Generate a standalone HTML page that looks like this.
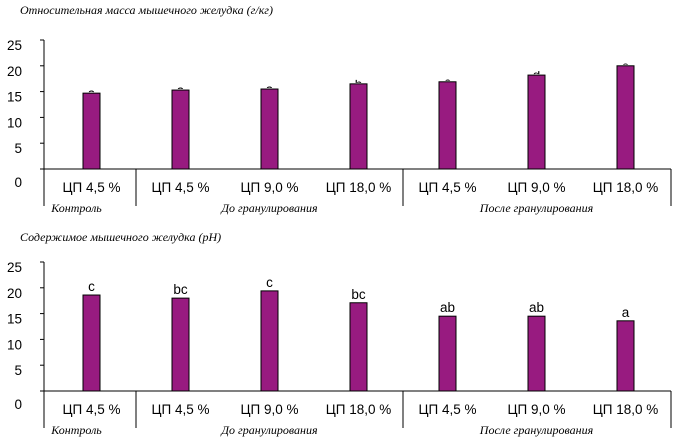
<!DOCTYPE html>
<html><head><meta charset="utf-8"><style>
html,body{margin:0;padding:0;background:#fff;width:677px;height:437px;overflow:hidden}
svg{display:block}
.t{font-family:"Liberation Serif",serif;font-style:italic;font-size:12px}
.n{font-family:"Liberation Sans",sans-serif;font-size:13.5px}
</style></head><body>
<svg id="c" width="677" height="437"></svg>
<script>
const categories = ["ЦП 4,5 %","ЦП 4,5 %","ЦП 9,0 %","ЦП 18,0 %","ЦП 4,5 %","ЦП 9,0 %","ЦП 18,0 %"];
const groups = ["Контроль","До гранулирования","После гранулирования"];
const groupSizes = [1,3,3];
const yTicks = [0,5,10,15,20,25];
const massValues = [14.7,15.3,15.5,16.5,16.9,18.2,20.0];
const massLetters = ["a","a","a","b","c","d","e"];
const phValues = [18.6,18.0,19.4,17.1,14.5,14.5,13.6];
const phLetters = ["c","bc","c","bc","ab","ab","a"];
const NS="http://www.w3.org/2000/svg";
const svg=document.getElementById('c');
function mk(tag,attrs,parent,txt){const e=document.createElementNS(NS,tag);for(const k in attrs)e.setAttribute(k,attrs[k]);if(txt!==undefined)e.textContent=txt;(parent||svg).appendChild(e);return e;}
function chart(id,title,titleX,titleY,base,values,letters,clipLetters){
  const g=mk('g',{});
  
  
  const x0=47,step=89,pxPer=5.16,ax=44,xEnd=671;
  const y=v=>base-v*pxPer;
  const xc=i=>x0+step*(i+0.5);
  const tt=mk('text',{x:titleX,y:titleY,class:'t'},g,title);
  
  
  mk('line',{x1:ax,y1:y(25),x2:ax,y2:base,stroke:'#000','stroke-width':1},g);
  yTicks.forEach(v=>{
    mk('line',{x1:ax-4,y1:y(v),x2:ax,y2:y(v),stroke:'#000'},g);
    const t=mk('text',{x:22,y:y(v)+(v===0?18:10),class:'n','text-anchor':'end'},g,v);
    
    
  });
  mk('line',{x1:ax-4,y1:base,x2:xEnd,y2:base,stroke:'#000'},g);
  let idx=0;
  const seps=[ax];
  groupSizes.forEach((s,gi)=>{
    const a=idx,b=idx+s;idx=b;
    seps.push(x0+step*b);
    const gl=mk('text',{x:(x0+step*a+x0+step*b)/2+(gi===0?-15:0),y:base+43,class:'t','text-anchor':'middle'},g,groups[gi]);
    
    
  });
  seps.forEach((sx,i)=>{const X=i===seps.length-1?xEnd:sx;mk('line',{x1:X,y1:base,x2:X,y2:base+37,stroke:'#000'},g);});
  values.forEach((v,i)=>{
    const r=mk('rect',{x:xc(i)-8.5,y:y(v),width:17,height:base-y(v),fill:'#981b80',stroke:'#000','stroke-width':1},g);
    
    
    const cl=mk('text',{x:xc(i),y:base+23,class:'n','text-anchor':'middle'},g,categories[i]);
    
    
    let lt;
    if(clipLetters){
      const cp=mk('clipPath',{id:'cp'+i},g);
      mk('rect',{x:xc(i)-10,y:y(v)-4,width:20,height:3},cp);
      lt=mk('text',{x:xc(i),y:y(v)+5,class:'n','text-anchor':'middle','clip-path':'url(#cp'+i+')'},g,letters[i]);
    } else {
      lt=mk('text',{x:xc(i),y:y(v)-4,class:'n','text-anchor':'middle'},g,letters[i]);
    }
    
    
  });
}
chart('mass-chart','Относительная масса мышечного желудка (г/кг)',20,14,169,massValues,massLetters,true);
chart('ph-chart','Содержимое мышечного желудка (pH)',20,241,391,phValues,phLetters,false);
</script>
</body></html>
